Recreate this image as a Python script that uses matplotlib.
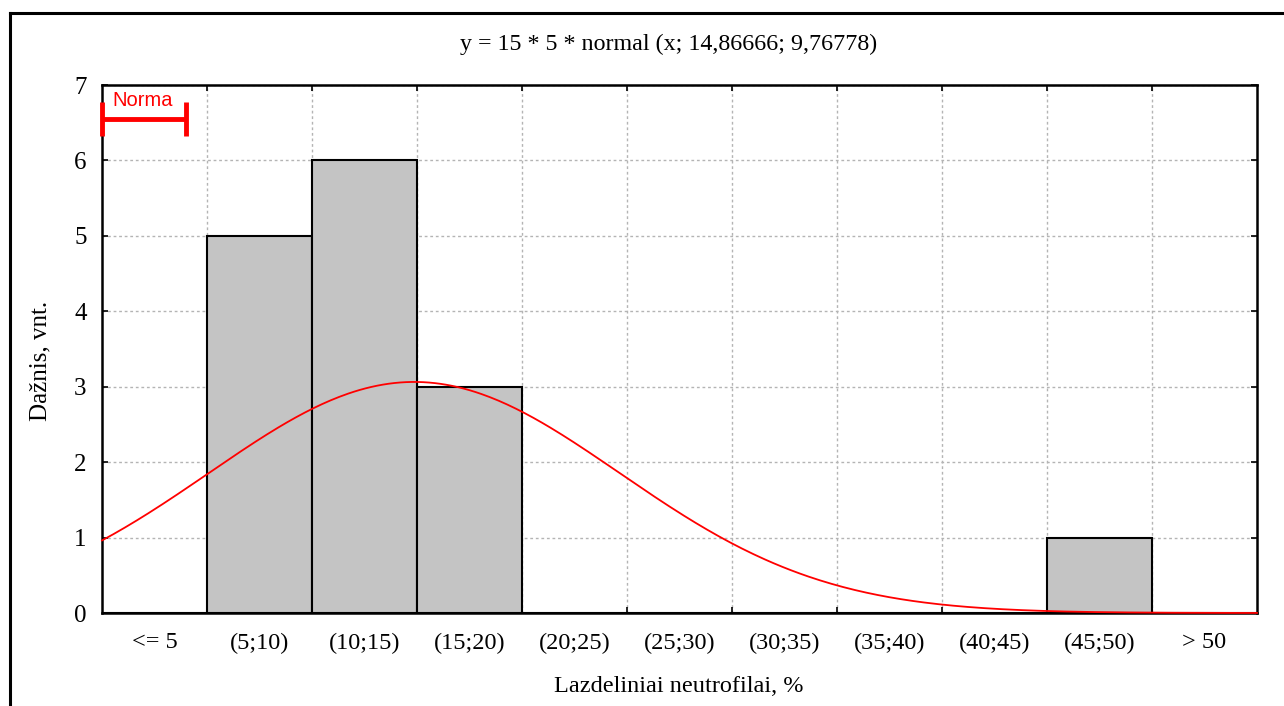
import numpy as np
import matplotlib.pyplot as plt
from matplotlib.lines import Line2D

categories = ['<= 5', '(5;10)', '(10;15)', '(15;20)', '(20;25)', '(25;30)',
              '(30;35)', '(35;40)', '(40;45)', '(45;50)', '> 50']
counts = [0, 5, 6, 3, 0, 0, 0, 0, 0, 1, 0]
bin_edges = [0, 5, 10, 15, 20, 25, 30, 35, 40, 45, 50, 55]

n_obs = 15
bin_w = 5
mu = 14.86666
sigma = 9.76778

norma_range = [0, 4]
norma_y = 6.55

plt.rcParams['font.family'] = ['Liberation Serif', 'DejaVu Serif']

fig = plt.figure(figsize=(12.84, 7.06), dpi=100)
ax = fig.add_axes([102 / 1284, 1 - 613 / 706, (1257 - 102) / 1284, (613 - 85) / 706])

centers = [(bin_edges[i] + bin_edges[i + 1]) / 2 for i in range(len(counts))]
ax.bar(centers, counts, width=bin_w, facecolor='#c4c4c4', edgecolor='black',
       linewidth=1.5, zorder=3)

xs = np.linspace(bin_edges[0], bin_edges[-1], 400)
ys = n_obs * bin_w * np.exp(-0.5 * ((xs - mu) / sigma) ** 2) / (sigma * np.sqrt(2 * np.pi))
ax.plot(xs, ys, color='red', linewidth=1.3, zorder=4, clip_on=False)

ax.set_xlim(bin_edges[0], bin_edges[-1])
ax.set_ylim(0, 7)
ax.set_xticks(bin_edges[1:-1])
ax.set_xticklabels([])
ax.set_xticks(centers, minor=True)
ax.set_xticklabels(categories, minor=True)
ax.tick_params(axis='x', which='minor', length=0, labelsize=17.5, pad=14)
ax.tick_params(axis='x', which='major', direction='in', length=4, top=True, width=1.2)
ax.set_yticks(range(0, 8))
ax.tick_params(axis='y', direction='in', length=4, right=True, labelsize=18, pad=11, width=1.2)
ax.grid(True, which='major', color='#b4b4b4', linestyle=(0, (2, 2)), linewidth=1, zorder=0)
for s in ax.spines.values():
    s.set_linewidth(1.8)

fig.text(679 / 1284, 1 - 686 / 706, 'Lazdeliniai neutrofilai, %', fontsize=17.5,
         ha='center', va='center')
fig.text(40 / 1284, 1 - 361 / 706, 'Dažnis, vnt.', fontsize=18, rotation=90,
         ha='center', va='center')

# Norma marker
ax.errorbar([(norma_range[0] + norma_range[1]) / 2], [norma_y],
            xerr=[[(norma_range[1] - norma_range[0]) / 2]], color='red',
            elinewidth=3.5, capsize=12, capthick=3.5, fmt='none', zorder=5, clip_on=False)
ax.text((norma_range[0] + norma_range[1]) / 2 - 0.05, norma_y + 0.24, 'Norma', color='red',
        fontsize=14.5, family='Liberation Sans', ha='center', va='center')

fig.text(669 / 1284, 1 - 44 / 706, 'y = 15 * 5 * normal (x; 14,86666; 9,76778)',
         fontsize=17.3, ha='center', va='center')

# outer frame (top and left edges)
fig.add_artist(Line2D([10 / 1284, 1283 / 1284], [1 - 13 / 706, 1 - 13 / 706],
                      transform=fig.transFigure, color='black', linewidth=2.2))
fig.add_artist(Line2D([10 / 1284, 10 / 1284], [1 - 13 / 706, 0],
                      transform=fig.transFigure, color='black', linewidth=2.2))

fig.savefig('out.png', dpi=100)
